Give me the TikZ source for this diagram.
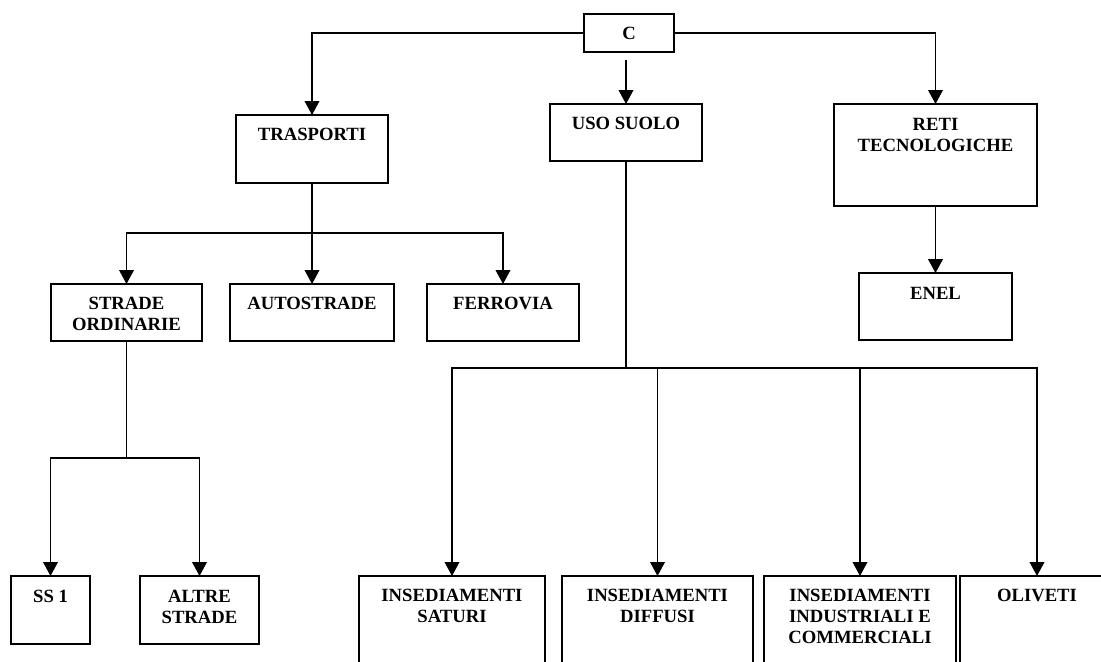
\documentclass[tikz,border=0pt]{standalone}
\usepackage{fontspec}
\setmainfont{Liberation Serif}
\usetikzlibrary{arrows.meta,calc}
\begin{document}
\begin{tikzpicture}[x=0.643pt,y=-0.643pt,
  bx/.style n args={2}{draw, line width=0.75pt, minimum width=#1*0.643pt, minimum height=#2*0.643pt, inner sep=0pt, outer sep=0pt},
  txt/.style={font=\fontsize{12pt}{13.5pt}\selectfont\bfseries, align=center, inner sep=0pt, anchor=north},
  conn/.style={line width=0.75pt},
  arr/.style={conn, -{Triangle[length=9pt,width=9.5pt]}},
  thickconn/.style={line width=1.1pt}]
\useasboundingbox (0,0) rectangle (1101,661);
\clip (0,0) rectangle (1101,661);
% boxes
\node[bx={90}{38}, font=\fontsize{12pt}{13.5pt}\selectfont\bfseries] (C) at (629,33) {C};
\node[bx={152}{68}] (tr) at (312,149) {};
\node[bx={152}{57}] (uso) at (626,132.5) {};
\node[bx={203}{102}] (reti) at (935.5,155) {};
\node[bx={151}{57}] (strade) at (126.5,312.5) {};
\node[bx={164}{57}] (auto) at (312,312.5) {};
\node[bx={152}{57}] (ferr) at (503,312.5) {};
\node[bx={153}{67}] (enel) at (935.5,306.5) {};
\node[bx={79}{68}] (ss) at (50.5,610) {};
\node[bx={119}{68}] (altre) at (199.5,610) {};
\node[bx={186}{100}] (sat) at (452,626) {};
\node[bx={191}{100}] (diff) at (657.5,626) {};
\node[bx={192}{100}] (ind) at (860,626) {};
\node[bx={154}{100}] (oliv) at (1037,626) {};
% texts
\node[txt] (ttr) at ($(tr.north)+(0,13)$) {TRASPORTI};
\node[txt] (tuso) at ($(uso.north)+(0,13)$) {USO SUOLO};
\node[txt] (treti) at ($(reti.north)+(0,14)$) {RETI\\TECNOLOGICHE};
\node[txt] (tstrade) at ($(strade.north)+(0,13)$) {STRADE\\ORDINARIE};
\node[txt] (tauto) at ($(auto.north)+(0,13)$) {AUTOSTRADE};
\node[txt] (tferr) at ($(ferr.north)+(0,13)$) {FERROVIA};
\node[txt] (tenel) at ($(enel.north)+(0,14)$) {ENEL};
\node[txt] (tss) at ($(ss.north)+(0,14)$) {SS 1};
\node[txt] (taltre) at ($(altre.north)+(0,14)$) {ALTRE\\STRADE};
\node[txt] (tsat) at ($(sat.north)+(0,13)$) {INSEDIAMENTI\\SATURI};
\node[txt] (tdiff) at ($(diff.north)+(0,13)$) {INSEDIAMENTI\\DIFFUSI};
\node[txt] (tind) at ($(ind.north)+(0,13)$) {INSEDIAMENTI\\INDUSTRIALI E\\COMMERCIALI};
\node[txt] (toliv) at ($(oliv.north)+(0,13)$) {OLIVETI};
% junction coordinates
\coordinate (cu) at ($(C.south -| uso.north)+(0,8)$);
\coordinate (tj) at (tr.south |- 0,233);
\coordinate (sj) at (strade.south |- 0,458);
\coordinate (uj) at (uso.south |- 0,368);
% connectors
\draw[arr] (C.west) -| (tr.north);
\draw[arr] (C.east) -| (reti.north);
\draw[arr] (cu) -- (uso.north);
\draw[arr] (tr.south) -- (auto.north);
\draw[arr] (tj) -| (strade.north);
\draw[arr] (tj) -| (ferr.north);
\draw[arr, line width=1.1pt] (reti.south) -- (enel.north);
\draw[conn] (strade.south) -- (sj);
\draw[arr] (sj) -| (ss.north);
\draw[arr] (sj) -| (altre.north);
\draw[thickconn] (uso.south) -- (uj);
\draw[arr] (uj) -| (sat.north);
\draw[arr] (uj) -| (diff.north);
\draw[arr] (uj) -| (ind.north);
\draw[arr] (uj) -| (oliv.north);
\draw[thickconn] (uj) -- (uj -| ind.north);
\end{tikzpicture}
\end{document}
